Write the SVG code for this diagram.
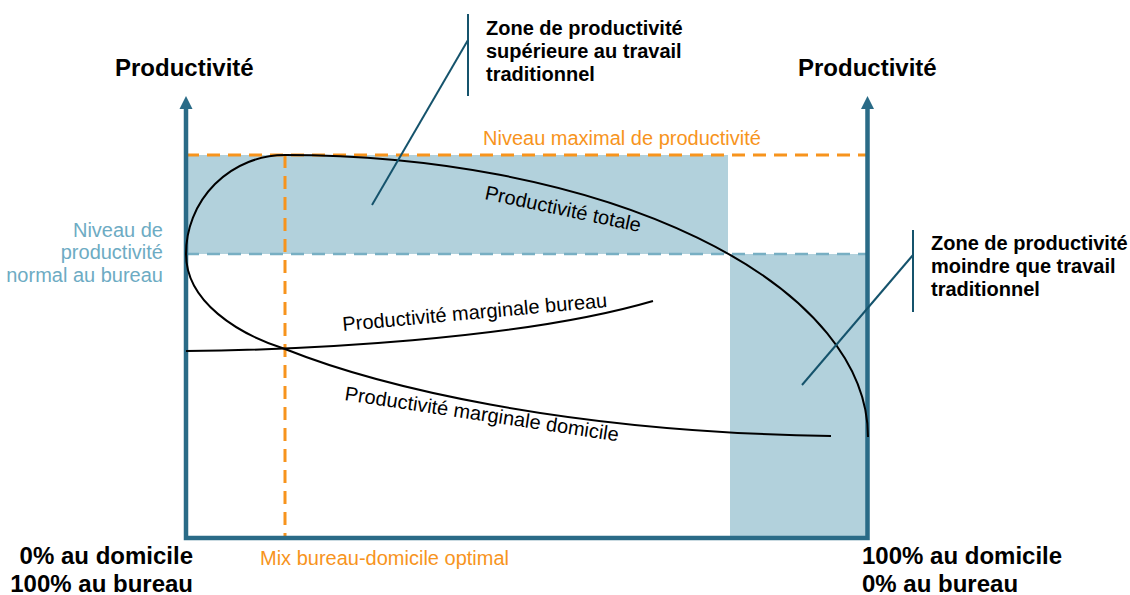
<svg xmlns="http://www.w3.org/2000/svg" width="1130" height="595" viewBox="0 0 1130 595">
  <defs>
    <style>
      .lbl { font-family: "Liberation Sans", Arial, sans-serif; font-size: 20px; }
      .bold { font-weight: bold; fill: #000; }
      .head { font-family: "Liberation Sans", Arial, sans-serif; font-size: 24px; font-weight: bold; fill: #000; }
      .orange { fill: #f7941d; }
      .blue { fill: #6dabc3; }
      .zone { fill: #b2d1dc; }
      .axis { stroke: #2a6b87; stroke-width: 4.5; fill: none; }
      .curve { stroke: #000; stroke-width: 2; fill: none; }
      .callout { stroke: #15536c; stroke-width: 2; fill: none; }
      .dashO { stroke: #f7941d; stroke-width: 3; stroke-dasharray: 13 8; fill: none; }
      .dashB { stroke: #78afc3; stroke-width: 2.5; stroke-dasharray: 13 8; fill: none; }
    </style>
  </defs>

  <rect width="1130" height="595" fill="#fff"/>

  <g id="zones">
    <rect class="zone" x="186" y="155" width="542" height="99"/>
    <rect class="zone" x="730" y="254" width="136" height="284"/>
  </g>

  <g id="reference-lines">
    <line class="dashO" x1="186" y1="155" x2="867" y2="155"/>
    <line class="dashB" x1="186" y1="254" x2="867" y2="254"/>
    <line class="dashO" x1="285" y1="155" x2="285" y2="537"/>
  </g>

  <g id="axes">
    <polyline class="axis" points="186,106 186,538 867.5,538 867.5,106"/>
    <polygon points="186,96 179.5,109 192.5,109" fill="#2a6b87"/>
    <polygon points="867.5,96 861,109 874,109" fill="#2a6b87"/>
  </g>

  <g id="connectors">
    <path id="totale" class="curve" d="M186,254 A99,99 0 0 1 285,155 A583,282 0 0 1 868,437"/>
    <path id="bureau" class="curve" d="M186,351 C300,350 520,340 653,301"/>
    <path id="domicile" class="curve" d="M186,254 C186,302 238,334 285,349 C375,385 560,432 831,436"/>
    <polyline class="callout" points="372,205 468,40"/>
    <line class="callout" x1="468" y1="14" x2="468" y2="96"/>
    <polyline class="callout" points="802,385 913,255"/>
    <line class="callout" x1="913" y1="230" x2="913" y2="312"/>
  </g>

  <g id="curve-labels">
    <text class="lbl" transform="translate(484,199) rotate(12)">Productivité totale</text>
    <text class="lbl" transform="translate(343,331) rotate(-5.2)">Productivité marginale bureau</text>
    <text class="lbl" transform="translate(344,400) rotate(8.6)">Productivité marginale domicile</text>
  </g>

  <g id="head-left">
    <text class="head" x="115" y="76">Productivité</text>
  </g>
  <g id="head-right">
    <text class="head" x="798" y="76">Productivité</text>
  </g>

  <g id="max-level">
    <text class="lbl orange" x="483" y="145">Niveau maximal de productivité</text>
  </g>

  <g id="normal-level">
    <text class="lbl blue" text-anchor="end" x="163" y="237">Niveau de</text>
    <text class="lbl blue" text-anchor="end" x="163" y="259">productivité</text>
    <text class="lbl blue" text-anchor="end" x="163" y="282">normal au bureau</text>
  </g>

  <g id="zone-sup">
    <text class="lbl bold" x="486" y="35">Zone de productivité</text>
    <text class="lbl bold" x="486" y="58">supérieure au travail</text>
    <text class="lbl bold" x="486" y="81">traditionnel</text>
  </g>

  <g id="zone-inf">
    <text class="lbl bold" x="931" y="250">Zone de productivité</text>
    <text class="lbl bold" x="931" y="273">moindre que travail</text>
    <text class="lbl bold" x="931" y="296">traditionnel</text>
  </g>

  <g id="x-left">
    <text class="head" text-anchor="end" x="193" y="564">0% au domicile</text>
    <text class="head" text-anchor="end" x="193" y="592">100% au bureau</text>
  </g>

  <g id="x-right">
    <text class="head" x="862" y="564">100% au domicile</text>
    <text class="head" x="862" y="592">0% au bureau</text>
  </g>

  <g id="optimal">
    <text class="lbl orange" x="260" y="565">Mix bureau-domicile optimal</text>
  </g>
</svg>
